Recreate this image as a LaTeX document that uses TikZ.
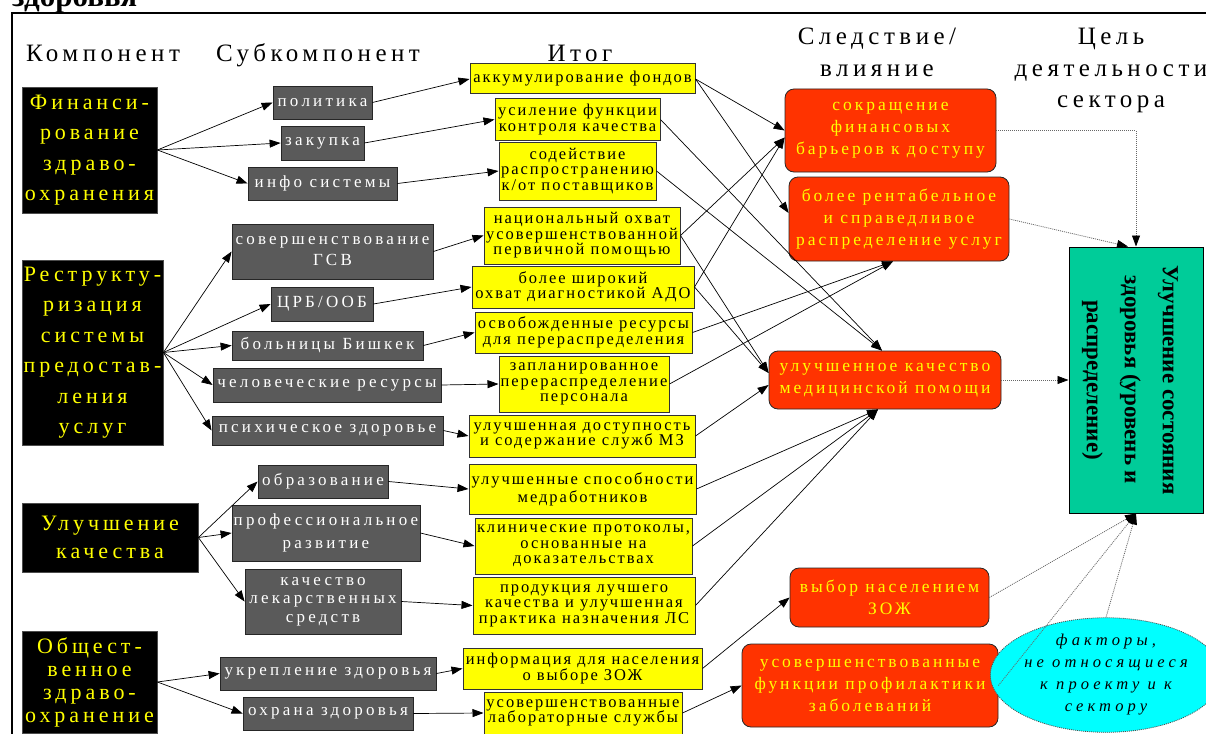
\documentclass[tikz,border=0pt]{standalone}
\usepackage{fontspec}
\setmainfont{Liberation Serif}
\newfontfamily\hdrf[LetterSpace=18]{Liberation Serif}
\newfontfamily\compf[LetterSpace=18]{Liberation Serif}
\newfontfamily\subf[LetterSpace=19]{Liberation Serif}
\newfontfamily\outf[LetterSpace=12]{Liberation Serif}
\newfontfamily\resf[LetterSpace=17]{Liberation Serif}
\newfontfamily\ellf[LetterSpace=25]{Liberation Serif}
\usetikzlibrary{arrows.meta,shapes.geometric,calc}
\definecolor{subgray}{HTML}{5A5A5A}
\definecolor{resred}{HTML}{FF3300}
\definecolor{goalgreen}{HTML}{00CC99}
\definecolor{ellcyan}{HTML}{00FFFF}
\definecolor{yel}{HTML}{FFFF00}
\newcommand{\bx}[7]{\node[#1,minimum width={#4-#2},minimum height={#5-#3}] (#6) at ({(#2+#4)/2},{(#3+#5)/2}) {#7};}
\tikzset{
  comp/.style={fill=black, draw=black!70, line width=0.8pt, text=yel, font=\compf\fontsize{22}{30.5}\selectfont, align=center, inner sep=0pt},
  subc/.style={fill=subgray, draw=black!85, line width=0.8pt, text=white, font=\subf\fontsize{17}{21}\selectfont, align=center, inner sep=0pt},
  outc/.style={fill=yel, draw=black!80, line width=1pt, text=black, font=\outf\fontsize{16.5}{15.5}\selectfont, align=center, inner sep=0pt},
  res/.style={fill=resred, draw=black!85, line width=0.8pt, rounded corners=9pt, text=yel, font=\resf\fontsize{17.5}{22}\selectfont, align=center, inner sep=0pt},
  hdr/.style={font=\hdrf\fontsize{25}{31}\selectfont, inner sep=0pt, anchor=base},
  arr/.style={-{Triangle[length=11pt,width=8pt]}, line width=0.7pt},
  dotarr/.style={-{Triangle[length=11pt,width=8pt,color=black]}, line width=0.8pt, dash pattern=on 1pt off 1pt, draw=black!60},
}
\begin{document}
\begin{tikzpicture}[x=1pt,y=-1pt]
\useasboundingbox (0,0) rectangle (1206,733);
% title and frame
\node[anchor=base west, font=\bfseries\fontsize{31}{33}\selectfont, inner sep=0pt] (title) at (12,7) {здоровья};
\draw[line width=2pt] (12,760) -- (12,13) -- (1230,13);
% headers
\node[hdr] (h1) at (103,62) {Компонент};
\node[hdr] (h2) at (318,62) {Субкомпонент};
\node[hdr] (h3) at (580,62) {Итог};
\node[hdr] (h4a) at (877,45) {Следствие/};
\node[hdr] (h4b) at (877,77) {влияние};
\node[hdr] (h5a) at (1111,45) {Цель};
\node[hdr] (h5b) at (1111,77) {деятельности};
\node[hdr] (h5c) at (1111,108) {сектора};
% components
\bx{comp}{22}{87}{157}{213}{c1}{Финанси-\\рование\\здраво-\\охранения}
\bx{comp}{22}{260}{163}{445}{c2}{Реструкту-\\ризация\\системы\\предостав-\\ления\\услуг}
\bx{comp,font=\compf\fontsize{22}{28}\selectfont}{22}{503}{198}{572}{c3}{Улучшение\\качества}
\bx{comp,font=\compf\fontsize{22}{23}\selectfont}{22}{631}{157}{733}{c4}{Общест-\\венное\\здраво-\\охранение}
% subcomponents
\bx{subc}{273}{86}{372}{119}{s1}{политика}
\bx{subc}{281}{126}{364}{160}{s2}{закупка}
\bx{subc}{248}{167}{397}{200}{s3}{инфо системы}
\bx{subc}{232}{224}{433}{279}{s4}{совершенствование\\ГСВ}
\bx{subc}{271}{287}{373}{321}{s5}{ЦРБ/ООБ}
\bx{subc}{232}{331}{423}{360}{s6}{больницы Бишкек}
\bx{subc}{213}{368}{441}{402}{s7}{человеческие ресурсы}
\bx{subc}{212}{416}{443}{445}{s8}{психическое здоровье}
\bx{subc}{258}{465}{388}{498}{s9}{образование}
\bx{subc,font=\subf\fontsize{17}{23}\selectfont}{232}{505}{420}{561}{s10}{профессиональное\\развитие}
\bx{subc,font=\subf\fontsize{17}{18.5}\selectfont}{245}{569}{401}{634}{s11}{качество\\лекарственных\\средств}
\bx{subc}{220}{657}{436}{690}{s12}{укрепление здоровья}
\bx{subc}{243}{697}{413}{730}{s13}{охрана здоровья}
% outcomes
\bx{outc}{470}{64}{695}{94}{o1}{аккумулирование фондов}
\bx{outc}{495}{99}{660}{140}{o2}{усиление функции\\контроля качества}
\bx{outc}{499}{142}{656}{200}{o3}{содействие\\распространению\\к/от поставщиков}
\bx{outc}{484}{207}{680}{264}{o4}{национальный охват\\усовершенствованной\\первичной помощью}
\bx{outc}{472}{266}{694}{308}{o5}{более широкий\\охват диагностикой АДО}
\bx{outc}{475}{312}{692}{353}{o6}{освобожденные ресурсы\\для перераспределения}
\bx{outc}{499}{356}{669}{412}{o7}{запланированное\\перераспределение\\персонала}
\bx{outc}{469}{415}{695}{457}{o8}{улучшенная доступность\\и содержание служб МЗ}
\bx{outc,font=\outf\fontsize{16.5}{18}\selectfont}{469}{464}{696}{514}{o9}{улучшенные способности\\медработников}
\bx{outc}{475}{518}{692}{574}{o10}{клинические протоколы,\\основанные на\\доказательствах}
\bx{outc}{473}{577}{695}{634}{o11}{продукция лучшего\\качества и улучшенная\\практика назначения ЛС}
\bx{outc}{463}{648}{702}{689}{o12}{информация для населения\\о выборе ЗОЖ}
\bx{outc}{484}{692}{682}{734}{o13}{усовершенствованные\\лабораторные службы}
% results
\bx{res}{785}{89}{996}{172}{r1}{сокращение\\финансовых\\барьеров к доступу}
\bx{res}{789}{177}{1009}{261}{r2}{более рентабельное\\и справедливое\\распределение услуг}
\bx{res}{769}{351}{1001}{409}{r3}{улучшенное качество\\медицинской помощи}
\bx{res}{790}{568}{989}{627}{r4}{выбор населением\\ЗОЖ}
\bx{res}{742}{644}{998}{727}{r5}{усовершенствованные\\функции профилактики\\заболеваний}
% goal
\bx{fill=goalgreen, draw=black, line width=1pt, inner sep=0pt}{1069}{247}{1203}{513}{goal}{}
\node[rotate=-90, font=\bfseries\fontsize{23}{38}\selectfont, align=center, inner sep=0pt] (goaltxt) at ($(goal.center)+(-6,0)$) {Улучшение состояния\\здоровья (уровень и\\распределение)};
% ellipse
\node[ellipse, fill=ellcyan, draw=black!70, line width=0.8pt, dash pattern=on 1pt off 1pt, minimum width=194pt, minimum height=104pt, inner sep=0pt, align=center, font=\ellf\itshape\fontsize{16.5}{22}\selectfont] (ell) at (1106,675) {факторы,\\не относящиеся\\к проекту и к\\сектору};
% component -> subcomponent
\foreach \a/\b in {c1/s1,c1/s2,c1/s3,c2/s4,c2/s5,c2/s6,c2/s7,c2/s8,c3/s9,c3/s10,c3/s11,c4/s12,c4/s13}
  \draw[arr] (\a.east) -- (\b.west);
% subcomponent -> outcome
\foreach \i in {1,...,13}
  \draw[arr] (s\i.east) -- (o\i.west);
% outcome -> result
\draw[arr] (o1.east) -- (r1.west);
\draw[arr] (o1.east) -- ($(r2.west)+(0,-6)$);
\draw[arr] (o2.east) -- ($(r3.north)+(-3,0)$);
\draw[arr] (o3.east) -- ($(r3.north)+(-3,0)$);
\draw[arr] (o4.east) -- ($(r1.west)+(0,7)$);
\draw[arr] (o4.east) -- ($(r3.west)+(0,-7)$);
\draw[arr] (o5.east) -- ($(r1.west)+(0,7)$);
\draw[arr] (o5.east) -- ($(r3.west)+(0,-7)$);
\draw[arr] (o6.east) -- ($(r2.south)+(-6,0)$);
\draw[arr] (o7.east) -- ($(r2.south)+(-6,0)$);
\draw[arr] (o8.east) -- ($(r3.west)+(0,5)$);
\draw[arr] (o9.east) -- ($(r3.south)+(-7,0)$);
\draw[arr] (o10.east) -- ($(r3.south)+(-7,0)$);
\draw[arr] (o11.east) -- ($(r3.south)+(-7,0)$);
\draw[arr] (o12.east) -- (r4.west);
\draw[arr] (o13.east) -- (r5.west);
% result -> goal
\draw[dotarr] (r1.east) -| (goal.north);
\draw[dotarr] (r2.east) -- ($(goal.north)+(-8,0)$);
\draw[dotarr] (r3.east) -- (goal.west);
\draw[dotarr] (r4.east) -- (goal.south);
\draw[dotarr] (r5.east) -- (goal.south);
\draw[dotarr] (ell.north) -- (goal.south);
\end{tikzpicture}
\end{document}
